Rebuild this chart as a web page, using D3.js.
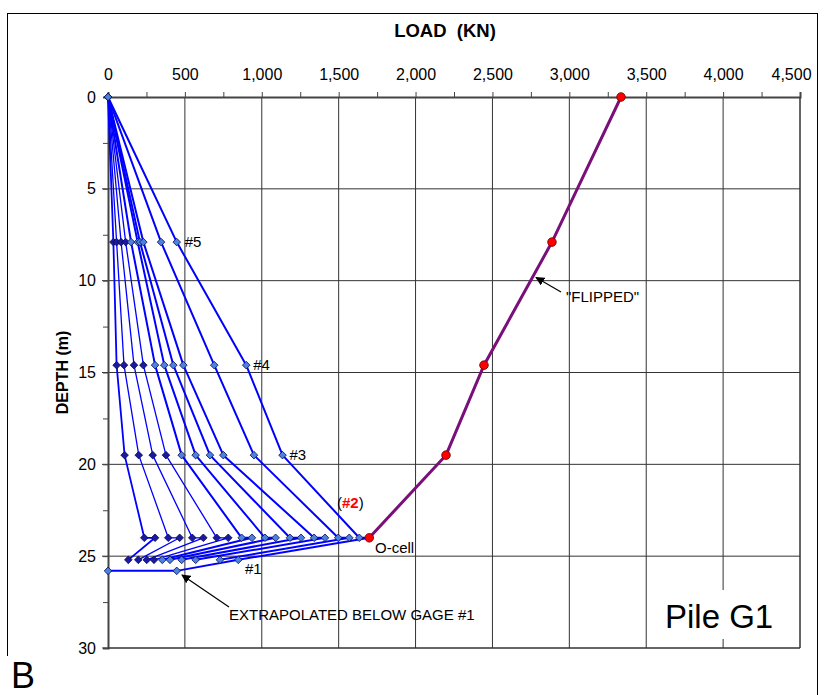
<!DOCTYPE html>
<html><head><meta charset="utf-8">
<script src="https://cdn.jsdelivr.net/npm/d3@7"></script>
<style>body{margin:0;background:#fff}svg{display:block}text{font-family:Arial,"Liberation Sans",sans-serif}</style>
</head><body><svg id="c" width="824" height="695"></svg>
<script>
// ---- data ----
const gageDepths = [0, 7.9, 14.6, 19.5, 24.0, 24.0, 25.2];
const gage5 = [35, 56, 85, 115, 150, 193, 208, 230, 345, 447];
const gage4 = [56, 104, 169, 230, 306, 366, 425, 490, 691, 899];
const gage3 = [108, 200, 291, 377, 479, 570, 663, 750, 949, 1135];
const ocellTop = [236, 392, 548, 707, 869, 1021, 1183, 1340, 1497, 1634];
const ocellBottom = [306, 466, 620, 782, 936, 1090, 1255, 1411, 1569, 1699];
const gage1 = [132, 197, 252, 299, 353, 403, 479, 570, 728, 847];
const toeDepth = 25.8;
const toeLoads = [447, 0];
const flippedDepths = [0, 7.9, 14.6, 19.5, 24.0];
const flippedLoads = [3336, 2887, 2445, 2198, 1699];
const xTicks = [0, 500, 1000, 1500, 2000, 2500, 3000, 3500, 4000, 4500];
const yTicks = [0, 5, 10, 15, 20, 25, 30];

const FONT = "Arial,'Liberation Sans',sans-serif";
const svg = d3.select("#c");
const x = d3.scaleLinear().domain([0, 4500]).range([108, 800]);
const y = d3.scaleLinear().domain([0, 30]).range([97, 648]);

// outer frame
svg.append("rect").attr("x", 7.5).attr("y", 13.5).attr("width", 810).attr("height", 690)
  .attr("fill", "none").attr("stroke", "#000").attr("stroke-width", 1);

// grid
const g = svg.append("g");
g.selectAll(".vg").data(xTicks.slice(1)).join("line")
  .attr("x1", d => x(d)).attr("x2", d => x(d)).attr("y1", y(0)).attr("y2", y(30))
  .attr("stroke", "#333").attr("stroke-width", 1);
g.selectAll(".hg").data(yTicks.slice(1)).join("line")
  .attr("x1", x(0) - 6).attr("x2", x(4500)).attr("y1", d => y(d)).attr("y2", d => y(d))
  .attr("stroke", "#333").attr("stroke-width", 1);

// Pile G1 label box (covers grid)
svg.append("rect").attr("x", 652).attr("y", 590).attr("width", 140).attr("height", 49).attr("fill", "#fff");
svg.append("text").attr("x", 665).attr("y", 628).attr("font-size", 33).text("Pile G1");

// axes
const xAxis = d3.axisTop(x).tickValues(d3.range(0, 4501, 250)).tickSize(5)
  .tickFormat(d => d % 500 === 0 ? d3.format(",")(d) : "");
const ax = svg.append("g").attr("transform", `translate(0,${y(0)})`).call(xAxis);
ax.select(".domain").attr("stroke", "#444").attr("stroke-width", 2);
ax.selectAll(".tick line").attr("stroke", "#444");
ax.selectAll(".tick text").attr("font-size", 16).attr("font-family", FONT).attr("dy", "-0.56em").attr("fill", "#000")
  .attr("dx", d => d === 4500 ? -9 : 0);

const yAxis = d3.axisLeft(y).tickValues(d3.range(0, 30.1, 2.5)).tickSize(5)
  .tickFormat(d => d % 5 === 0 ? d : "");
const ay = svg.append("g").attr("transform", `translate(${x(0)},0)`).call(yAxis);
ay.select(".domain").attr("stroke", "#444").attr("stroke-width", 2);
ay.selectAll(".tick line").attr("stroke", "#444");
ay.selectAll(".tick text").attr("font-size", 16).attr("font-family", FONT).attr("dx", "-0.25em").attr("fill", "#000");
// right & bottom plot edges
svg.append("line").attr("x1", x(4500)).attr("x2", x(4500)).attr("y1", y(0)).attr("y2", y(30)).attr("stroke", "#333");
svg.append("line").attr("x1", x(0)).attr("x2", x(4500)).attr("y1", y(30)).attr("y2", y(30)).attr("stroke", "#333");

// axis titles
svg.append("text").attr("x", 445).attr("y", 37).attr("text-anchor", "middle").attr("font-size", 18.5)
  .attr("font-weight", "bold").style("white-space", "pre").text("LOAD  (KN)");
svg.append("text").attr("transform", `translate(68,${y(15)}) rotate(-90)`).attr("text-anchor", "middle")
  .attr("font-size", 16).attr("font-weight", "bold").text("DEPTH (m)");

// curves
const curves = d3.range(gage5.length).map(i => {
  const loads = [0, gage5[i], gage4[i], gage3[i], ocellTop[i], ocellBottom[i], gage1[i]];
  const pts = loads.map((l, k) => [l, gageDepths[k]]);
  if (i === gage5.length - 1) toeLoads.forEach(l => pts.push([l, toeDepth]));
  return pts;
});
const line = d3.line().x(d => x(d[0])).y(d => y(d[1]));
const widths = i => i === 0 ? 1.8 : (i < 4 ? 1.3 : 2);
svg.append("g").selectAll("path").data(curves).join("path")
  .attr("d", line).attr("fill", "none").attr("stroke", "#0000ff")
  .attr("stroke-width", (d, i) => widths(i)).attr("stroke-linejoin", "round");

const diamond = "M0,-3.8L3.8,0L0,3.8L-3.8,0Z";
curves.forEach((pts, i) => {
  svg.append("g").selectAll("path").data(pts).join("path")
    .attr("transform", d => `translate(${x(d[0])},${y(d[1])})`)
    .attr("d", diamond)
    .attr("fill", i < 4 ? "#1a1aa0" : "#4a82e0")
    .attr("stroke", "#0a0a50").attr("stroke-width", 0.8);
});

// flipped curve
const flipped = flippedLoads.map((l, k) => [l, flippedDepths[k]]);
svg.append("path").datum(flipped).attr("d", line).attr("fill", "none")
  .attr("stroke", "#7a0f7a").attr("stroke-width", 3);
svg.append("g").selectAll("circle").data(flipped).join("circle")
  .attr("cx", d => x(d[0])).attr("cy", d => y(d[1])).attr("r", 4.3)
  .attr("fill", "#ff0000").attr("stroke", "#600").attr("stroke-width", 0.8);

// annotations
const ann = svg.append("g").attr("font-size", 15);
ann.append("text").attr("x", x(447) + 8).attr("y", y(7.9) + 5).text("#5");
ann.append("text").attr("x", x(899) + 7).attr("y", y(14.6) + 5).text("#4");
ann.append("text").attr("x", x(1135) + 7).attr("y", y(19.5) + 5).text("#3");
const t2 = ann.append("text").attr("x", 337).attr("y", 508);
t2.append("tspan").text("(");
t2.append("tspan").attr("fill", "#ff0000").attr("font-weight", "bold").text("#2");
t2.append("tspan").text(")");
ann.append("text").attr("x", 375).attr("y", 553).text("O-cell");
ann.append("text").attr("x", 245).attr("y", 574).text("#1");
ann.append("text").attr("x", 566).attr("y", 302).text("\"FLIPPED\"");
ann.append("text").attr("x", 229).attr("y", 620).text("EXTRAPOLATED BELOW GAGE #1");

svg.append("defs").append("marker").attr("id", "ah").attr("viewBox", "0 0 10 10")
  .attr("refX", 9).attr("refY", 5).attr("markerWidth", 9).attr("markerHeight", 9)
  .attr("markerUnits", "userSpaceOnUse").attr("orient", "auto")
  .append("path").attr("d", "M0,0L10,5L0,10Z").attr("fill", "#000");
svg.append("line").attr("x1", 561).attr("y1", 292).attr("x2", 536).attr("y2", 277.5)
  .attr("stroke", "#000").attr("stroke-width", 1.2).attr("marker-end", "url(#ah)");
svg.append("line").attr("x1", 229).attr("y1", 607).attr("x2", 182).attr("y2", 575)
  .attr("stroke", "#000").attr("stroke-width", 1.2).attr("marker-end", "url(#ah)");

// panel letter
svg.append("rect").attr("x", 0).attr("y", 656).attr("width", 42).attr("height", 39).attr("fill", "#fff");
svg.append("text").attr("x", 11).attr("y", 688).attr("font-size", 36).text("B");
</script></body></html>
